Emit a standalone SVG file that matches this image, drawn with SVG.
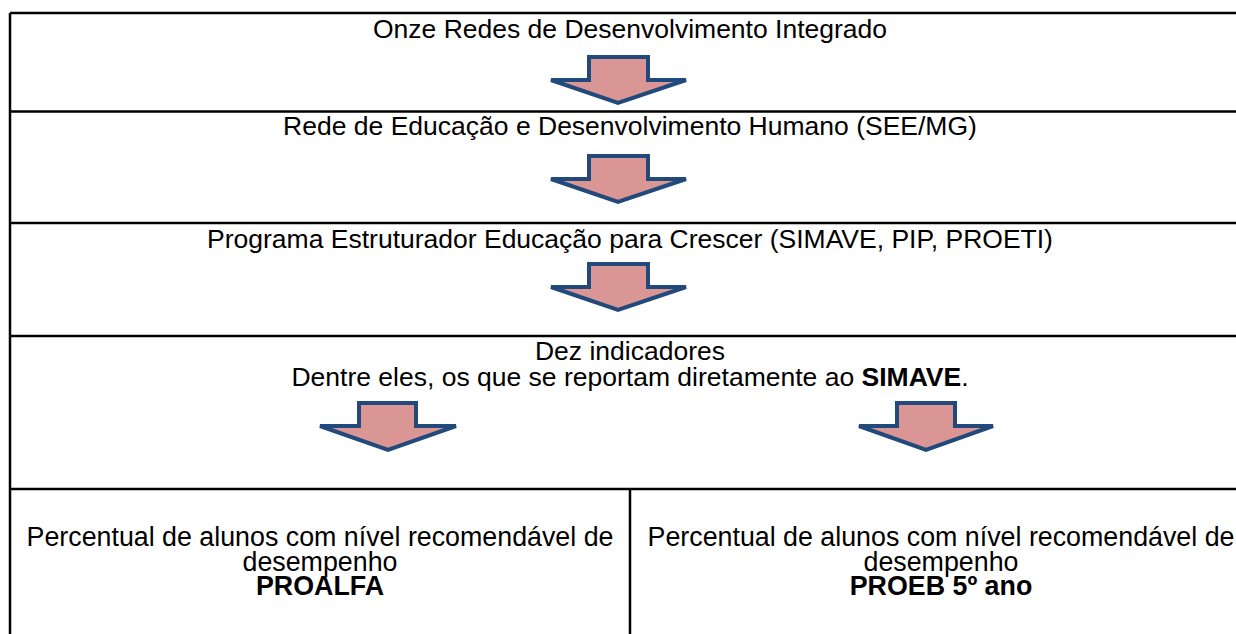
<svg xmlns="http://www.w3.org/2000/svg" width="1236" height="634" viewBox="0 0 1236 634">
<style>
.t{font-family:"Liberation Sans",Arial,sans-serif;font-size:26.5px;fill:#000;text-anchor:middle}
.b{font-weight:bold}
.line{stroke:#000;stroke-width:2.5;fill:none}
.arr{fill:#D99694;stroke:#22497B;stroke-width:4;stroke-linejoin:miter}
</style>
<rect width="1236" height="634" fill="#fff"/>
<g id="table">
<path class="line" d="M10,13 H1240 M10,13 V640 M10,111.5 H1240 M10,223 H1240 M10,336 H1240 M10,489 H1240 M630,489 V640"/>
</g>
<g id="row1"><text class="t" x="630" y="38">Onze Redes de Desenvolvimento Integrado</text></g>
<g id="row2"><text class="t" x="630" y="135">Rede de Educação e Desenvolvimento Humano (SEE/MG)</text></g>
<g id="row3"><text class="t" x="630" y="248">Programa Estruturador Educação para Crescer (SIMAVE, PIP, PROETI)</text></g>
<g id="row4">
<text class="t" x="630" y="360"><tspan x="630" y="360">Dez indicadores</tspan><tspan x="630" y="386">Dentre eles, os que se reportam diretamente ao <tspan class="b">SIMAVE</tspan>.</tspan></text>
</g>
<g id="cell-left">
<text class="t" x="320" y="546" style="font-size:26.8px"><tspan x="320" y="546">Percentual de alunos com nível recomendável de</tspan><tspan x="320" y="571">desempenho</tspan><tspan class="b" x="320" y="595">PROALFA</tspan></text>
</g>
<g id="cell-right">
<text class="t" x="941" y="546" style="font-size:26.8px"><tspan x="941" y="546">Percentual de alunos com nível recomendável de</tspan><tspan x="941" y="571">desempenho</tspan><tspan class="b" x="941" y="595">PROEB 5º ano</tspan></text>
</g>
<g id="connectors">
<polygon class="arr" points="589,57 648,57 648,80 686,80 618,103 551,80 589,80"/>
<polygon class="arr" points="589,156 648,156 648,179 686,179 618,202 551,179 589,179"/>
<polygon class="arr" points="589,264 648,264 648,287 686,287 618,310 551,287 589,287"/>
<polygon class="arr" points="359,403 416,403 416,426 456,426 388,450 320,426 359,426"/>
<polygon class="arr" points="897,403 955,403 955,426 993,426 926,450 859,426 897,426"/>
</g>
</svg>
